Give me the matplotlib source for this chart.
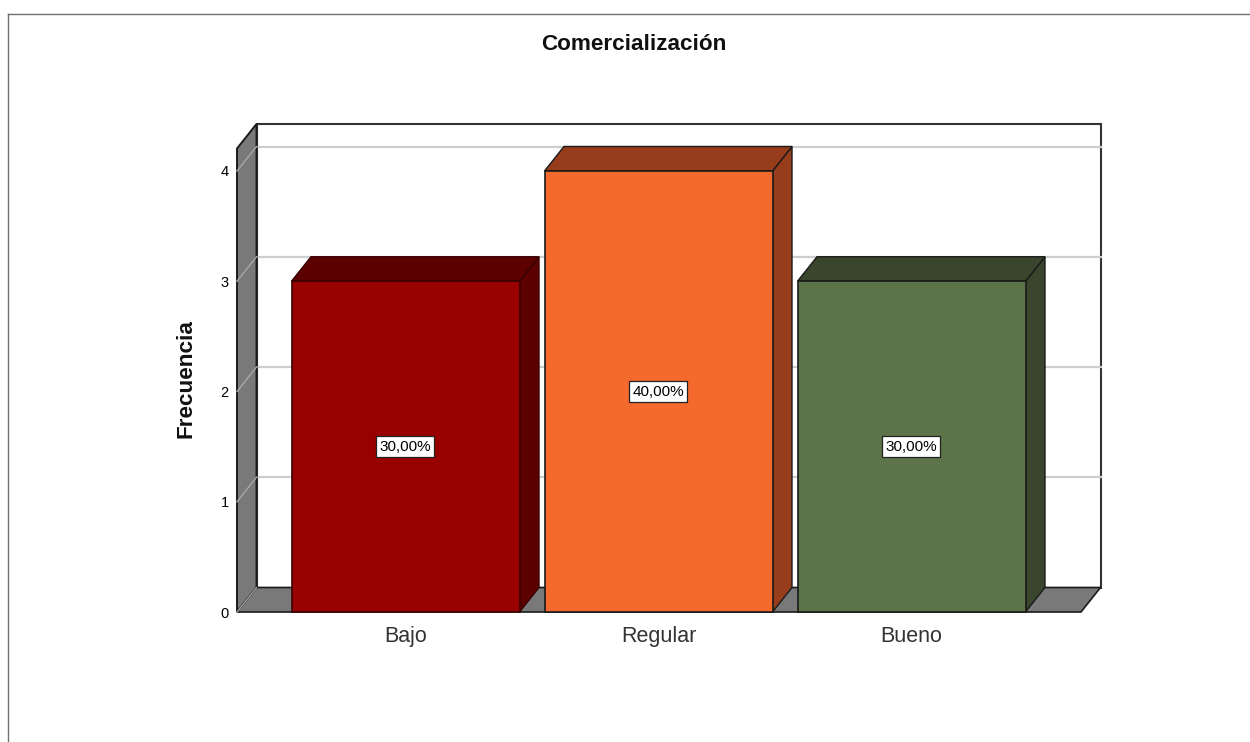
import matplotlib
matplotlib.use("Agg")
import matplotlib.pyplot as plt
from matplotlib.patches import Polygon, Rectangle
from matplotlib.lines import Line2D

categories = ["Bajo", "Regular", "Bueno"]
freq = [3, 4, 3]
pct = ["30,00%", "40,00%", "30,00%"]
yticks = [0, 1, 2, 3, 4]
front = ["#990000", "#F4692C", "#5D734A"]
top = ["#5C0000", "#983D1B", "#3A452D"]
side = ["#5C0000", "#983D1B", "#3A452D"]

plt.rcParams['font.family'] = ['Liberation Sans', 'DejaVu Sans']
W, H = 1250, 742
fig = plt.figure(figsize=(W/100, H/100), dpi=100, facecolor="white")

# Axes front plane: x 237..1081 px, baseline y=612, value 4 at y=171
L, R, B, T = 237, 1081, 612, 171
ax = fig.add_axes([L/W, 1-B/H, (R-L)/W, (B-T)/H])
ax.set_xlim(0, 844)
ax.set_ylim(0, 4)
ax.patch.set_alpha(0)
for s in ax.spines.values():
    s.set_visible(False)
dx, dy = 19.5, 24.5/110.25  # depth in x px and y data units
ytop = 4 + (171-124-24.5)/110.25

# frame + walls
ec = "#1A1A1A"
frame = "#333333"
ax.add_patch(Polygon([(dx, dy), (dx, ytop+dy), (R-L+dx, ytop+dy), (R-L+dx, dy)], fc="white", ec=frame, lw=1.5, clip_on=False, zorder=1))
ax.add_patch(Polygon([(0, 0), (dx, dy), (dx, ytop+dy), (0, ytop)], fc="#797979", ec=ec, lw=1.4, clip_on=False, zorder=2))
ax.add_patch(Polygon([(0, 0), (dx, dy), (R-L+dx, dy), (R-L, 0)], fc="#797979", ec=ec, lw=1.2, clip_on=False, zorder=2))
for v in yticks[1:]:
    ax.plot([dx, R-L+dx], [v+dy, v+dy], color="#CDCDCD", lw=1.6, zorder=1.5, clip_on=False)
    ax.plot([0, dx], [v, v+dy], color="#A8A8A8", lw=1.0, zorder=2.5, clip_on=False)
ax.plot([0, dx], [0, dy], color="#A8A8A8", lw=0.9, zorder=2.5, clip_on=False)

# bars
lefts = [54.5, 307.5, 560.5]
w = 228
edge = ["#3A0000", ec, ec]
for x0, f, c, t, s, p, e in zip(lefts, freq, front, top, side, pct, edge):
    ax.add_patch(Polygon([(x0+w, 0), (x0+w+dx, dy), (x0+w+dx, f+dy), (x0+w, f)], fc=s, ec=e, lw=1.0, zorder=3, clip_on=False))
    ax.add_patch(Polygon([(x0, f), (x0+dx, f+dy), (x0+w+dx, f+dy), (x0+w, f)], fc=t, ec=e, lw=1.0, zorder=3, clip_on=False))
    ax.add_patch(Rectangle((x0, 0), w, f, fc=c, ec=e, lw=1.2, zorder=4, clip_on=False))
    ax.text(x0+w/2-0.5, f/2, p, ha="center", va="center", fontsize=11, color="black", zorder=5,
            bbox=dict(boxstyle="square,pad=0.24", fc="white", ec="#222222", lw=0.9))

ax.set_xticks([x0+w/2 for x0 in lefts], categories, fontsize=15.5, color="#333333")
ax.tick_params(axis="x", length=0, pad=10)
ax.set_yticks(yticks, [str(v) for v in yticks], fontsize=10.5)
ax.tick_params(axis="y", length=0, pad=6)

fig.text(634/W, 1-45/H, "Comercialización", ha="center", va="center", fontsize=16.2, fontweight="bold", color="#111111")
fig.text(186/W, 1-379/H, "Frecuencia", ha="center", va="center", rotation=90, fontsize=16.2, fontweight="bold", color="#111111")

# outer screenshot frame
fig.add_artist(Line2D([8/W, 1], [1-14/H, 1-14/H], color="#707070", lw=1, transform=fig.transFigure))
fig.add_artist(Line2D([8/W, 8/W], [1-14/H, 0], color="#707070", lw=1, transform=fig.transFigure))

fig.savefig("out.png", dpi=100, facecolor="white")
